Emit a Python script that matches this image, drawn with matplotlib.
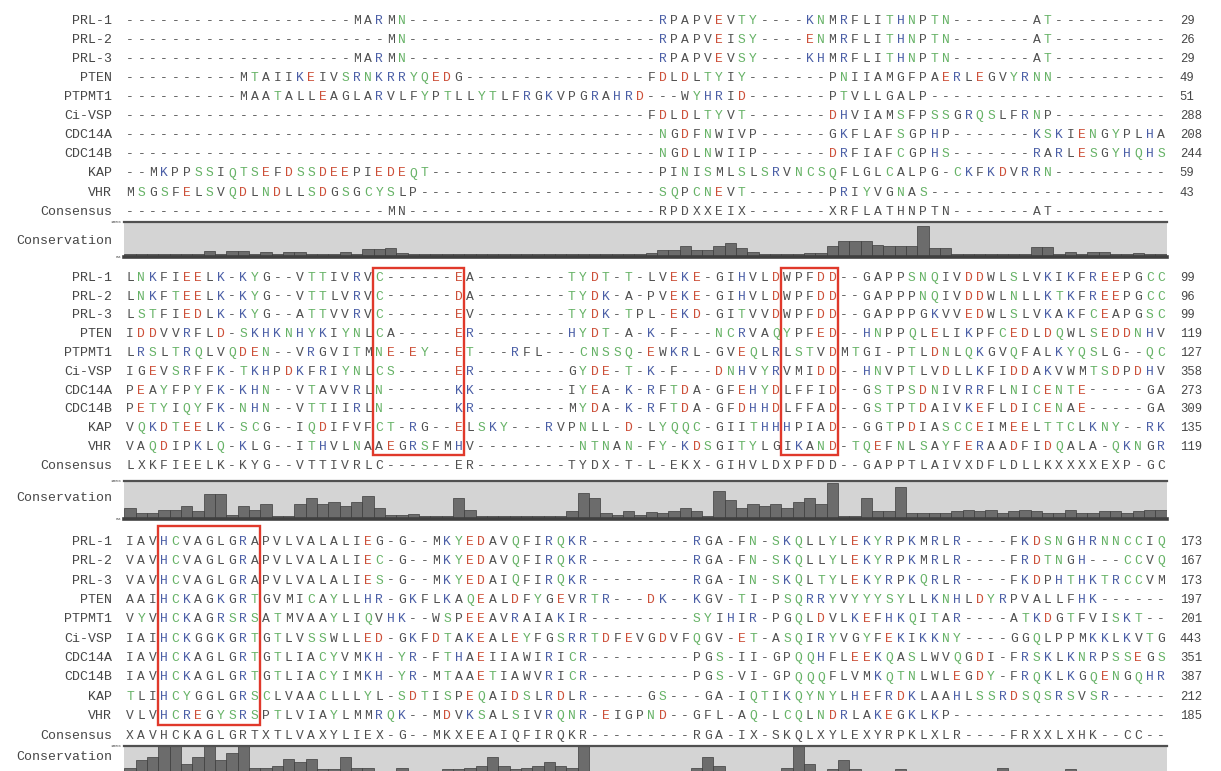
import matplotlib
matplotlib.use("Agg")
import matplotlib.pyplot as plt
from matplotlib.patches import Rectangle

names = ["PRL-1", "PRL-2", "PRL-3", "PTEN", "PTPMT1", "Ci-VSP", "CDC14A", "CDC14B", "KAP", "VHR"]

# ---- block 1 ----
block1 = [
    "--------------------MARMN----------------------RPAPVEVTY----KNMRFLITHNPTN-------AT----------",
    "-----------------------MN----------------------RPAPVEISY----ENMRFLITHNPTN-------AT----------",
    "--------------------MARMN----------------------RPAPVEVSY----KHMRFLITHNPTN-------AT----------",
    "----------MTAIIKEIVSRNKRRYQEDG----------------FDLDLTYIY-------PNIIAMGFPAERLEGVYRNN----------",
    "----------MAATALLEAGLARVLFYPTLLYTLFRGKVPGRAHRD---WYHRID-------PTVLLGALP---------------------",
    "----------------------------------------------FDLDLTYVT-------DHVIAMSFPSSGRQSLFRNP----------",
    "-----------------------------------------------NGDFNWIVP------GKFLAFSGPHP-------KSKIENGYPLHA",
    "-----------------------------------------------NGDLNWIIP------DRFIAFCGPHS-------RARLESGYHQHS",
    "--MKPPSSIQTSEFDSSDEEPIEDEQT--------------------PINISMLSLSRVNCSQFLGLCALPG-CKFKDVRRN----------",
    "MSGSFELSVQDLNDLLSDGSGCYSLP---------------------SQPCNEVT-------PRIYVGNAS---------------------",
]
consensus1 = "-----------------------MN----------------------RPDXXEIX-------XRFLATHNPTN-------AT----------"
ends1 = [29, 26, 29, 49, 51, 288, 208, 244, 59, 43]
conservation1 = [8, 8, 8, 8, 8, 8, 8, 18, 8, 16, 16, 8, 14, 8, 14, 14, 8, 8, 8, 14,
                 8, 22, 22, 25, 10, 8, 8, 8, 8, 8, 8, 8, 8, 8, 8, 8, 8, 8, 8, 8,
                 8, 8, 8, 8, 8, 8, 12, 20, 20, 30, 20, 20, 30, 40, 25, 15, 8, 8, 8, 8,
                 12, 12, 30, 45, 45, 45, 35, 30, 30, 30, 90, 25, 25, 8, 8, 8, 8, 8, 8, 8,
                 28, 28, 8, 14, 8, 14, 14, 8, 8, 12, 8, 8]

# ---- block 2 ----
block2 = [
    "LNKFIEELK-KYG--VTTIVRVC------EA--------TYDT-T-LVEKE-GIHVLDWPFDD--GAPPSNQIVDDWLSLVKIKFREEPGCC",
    "LNKFTEELK-KYG--VTTLVRVC------DA--------TYDK-A-PVEKE-GIHVLDWPFDD--GAPPPNQIVDDWLNLLKTKFREEPGCC",
    "LSTFIEDLK-KYG--ATTVVRVC------EV--------TYDK-TPL-EKD-GITVVDWPFDD--GAPPPGKVVEDWLSLVKAKFCEAPGSC",
    "IDDVVRFLD-SKHKNHYKIYNLCA-----ER--------HYDT-A-K-F---NCRVAQYPFED--HNPPQLELIKPFCEDLDQWLSEDDNHV",
    "LRSLTRQLVQDEN--VRGVITMNE-EY--ET---RFL---CNSSQ-EWKRL-GVEQLRLSTVDMTGI-PTLDNLQKGVQFALKYQSLG--QC",
    "IGEVSRFFK-TKHPDKFRIYNLCS-----ER--------GYDE-T-K-F---DNHVYRVMIDD--HNVPTLVDLLKFIDDAKVWMTSDPDHV",
    "PEAYFPYFK-KHN--VTAVVRLN------KK--------IYEA-K-RFTDA-GFEHYDLFFID--GSTPSDNIVRRFLNICENTE-----GA",
    "PETYIQYFK-NHN--VTTIIRLN------KR--------MYDA-K-RFTDA-GFDHHDLFFAD--GSTPTDAIVKEFLDICENAE-----GA",
    "VQKDTEELK-SCG--IQDIFVFCT-RG--ELSKY---RVPNLL-D-LYQQC-GIITHHHPIAD--GGTPDIASCCEIMEELTTCLKNY--RK",
    "VAQDIPKLQ-KLG--ITHVLNAAEGRSFMHV---------NTNAN-FY-KDSGITYLGIKAND-TQEFNLSAYFERAADFIDQALA-QKNGR",
]
consensus2 = "LXKFIEELK-KYG--VTTIVRLC------ER--------TYDX-T-L-EKX-GIHVLDXPFDD--GAPPTLAIVXDFLDLLKXXXXEXP-GC"
ends2 = [99, 96, 99, 119, 127, 358, 273, 309, 135, 119]
conservation2 = [30, 15, 15, 25, 25, 35, 20, 65, 65, 10, 35, 25, 40, 8, 8, 40, 55, 40, 45, 35,
                 45, 60, 30, 10, 10, 12, 8, 8, 8, 55, 25, 8, 8, 8, 8, 8, 8, 8, 8, 20,
                 68, 55, 15, 10, 20, 10, 18, 15, 20, 30, 20, 8, 75, 50, 30, 40, 35, 40, 30, 45,
                 55, 40, 95, 8, 8, 55, 20, 20, 85, 15, 15, 15, 15, 20, 25, 20, 25, 15, 20, 25,
                 20, 15, 15, 25, 15, 15, 20, 20, 15, 20, 25, 25]

# ---- block 3 ----
block3 = [
    "IAVHCVAGLGRAPVLVALALIEG-G--MKYEDAVQFIRQKR---------RGA-FN-SKQLLYLEKYRPKMRLR----FKDSNGHRNNCCIQ",
    "VAVHCVAGLGRAPVLVALALIEC-G--MKYEDAVQFIRQKR---------RGA-FN-SKQLLYLEKYRPKMRLR----FRDTNGH---CCVQ",
    "VAVHCVAGLGRAPVLVALALIES-G--MKYEDAIQFIRQKR---------RGA-IN-SKQLTYLEKYRPKQRLR----FKDPHTHKTRCCVM",
    "AAIHCKAGKGRTGVMICAYLLHR-GKFLKAQEALDFYGEVRTR---DK--KGV-TI-PSQRRYVYYYSYLLKNHLDYRPVALLFHK------",
    "VYVHCKAGRSRSATMVAAYLIQVHK--WSPEEAVRAIAKIR---------SYIHIR-PGQLDVLKEFHKQITAR----ATKDGTFVISKT--",
    "IAIHCKGGKGRTGTLVSSWLLED-GKFDTAKEALEYFGSRRTDFEVGDVFQGV-ET-ASQIRYVGYFEKIKKNY----GGQLPPMKKLKVTG",
    "IAVHCKAGLGRTGTLIACYVMKH-YR-FTHAEIIAWIRICR---------PGS-II-GPQQHFLEEKQASLWVQGDI-FRSKLKNRPSSEGS",
    "IAVHCKAGLGRTGTLIACYIMKH-YR-MTAAETIAWVRICR---------PGS-VI-GPQQQFLVMKQTNLWLEGDY-FRQKLKGQENGQHR",
    "TLIHCYGGLGRSCLVAACLLLYL-SDTISPEQAIDSLRDLR-----GS---GA-IQTIKQYNYLHEFRDKLAAHLSSRDSQSRSVSR-----",
    "VLVHCREGYSRSPTLVIAYLMMRQK--MDVKSALSIVRQNR-EIGPND--GFL-AQ-LCQLNDRLAKEGKLKP-------------------",
]
consensus3 = "XAVHCKAGLGRTXTLVAXYLIEX-G--MKXEEAIQFIRQKR---------RGA-IX-SKQLXYLEXYRPKLXLR----FRXXLXHK--CC--"
ends3 = [173, 167, 173, 197, 201, 443, 351, 387, 212, 185]
conservation3 = [40, 60, 70, 100, 100, 50, 70, 100, 60, 80, 100, 40, 40, 45, 65, 55, 65, 35, 35, 70,
                 40, 40, 25, 10, 40, 25, 20, 30, 35, 35, 40, 45, 70, 45, 35, 40, 45, 55, 45, 40,
                 100, 10, 10, 12, 10, 10, 15, 15, 10, 10, 40, 70, 45, 10, 30, 30, 10, 30, 40, 100,
                 50, 20, 35, 60, 35, 25, 25, 25, 35, 25, 25, 30, 25, 20, 10, 10, 10, 40, 30, 25,
                 25, 25, 20, 35, 25, 15, 25, 25, 25, 30, 25, 25]

# red boxes (first, last column) per block
boxes1 = []
boxes2 = [(22, 29), (58, 62)]
boxes3 = [(3, 11)]

NCOL = 92
for blk in (block1 + [consensus1], block2 + [consensus2], block3 + [consensus3]):
    for s in blk:
        assert len(s) == NCOL, (len(s), s)
for cv in (conservation1, conservation2, conservation3):
    assert len(cv) == NCOL, len(cv)

W, H = 1221, 771
X0 = 130.0      # centre of first column (px)
PITCH = 11.33   # column pitch (px)
FONT = "Liberation Mono"

RED = "#cc4f38"
BLUE = "#4a5ea6"
GREEN = "#66b266"
GREY = "#505050"
LABEL = "#464646"
BOX = "#e0392b"


def res_color(ch):
    if ch in "DE":
        return RED
    if ch in "KRH":
        return BLUE
    if ch in "STNQYC":
        return GREEN
    return GREY


fig = plt.figure(figsize=(W / 100, H / 100), dpi=100)
fig.patch.set_facecolor("white")


def px_axes(left, top, width, height):
    return fig.add_axes([left / W, 1 - (top + height) / H, width / W, height / H])


blocks = [
    (block1, consensus1, ends1, conservation1, boxes1),
    (block2, consensus2, ends2, conservation2, boxes2),
    (block3, consensus3, ends3, conservation3, boxes3),
]
# first row y, row pitch, strip top, strip bottom, label y, box top (rows)
layout = [
    (20.7, 19.1, 222, 257, 241, -0.55),
    (277.7, 18.8, 481, 519, 498, -0.5),
    (541.7, 19.4, 746, 782, 757, -0.8),
]

left = X0 - PITCH / 2
width = NCOL * PITCH

for (seqs, cons, ends, cvals, boxes), (y0, rp, s_top, s_bot, lab_y, box_top) in zip(blocks, layout):
    ax = px_axes(left, y0 - rp / 2, width, 11 * rp)
    ax.set_xlim(-0.5, NCOL - 0.5)
    ax.set_ylim(10.5, -0.5)
    ax.axis("off")

    rows = seqs + [cons]
    labels = names + ["Consensus"]
    for r, (lab, s) in enumerate(zip(labels, rows)):
        ax.text(-1.6, r, lab, ha="right", va="center", fontsize=9.5,
                color=LABEL, family=FONT, clip_on=False)
        for c, ch in enumerate(s):
            col = GREY if r == 10 else res_color(ch)
            ax.text(c, r, ch, ha="center", va="center", fontsize=9.4,
                    color=col, family=FONT)
    for r, n in enumerate(ends):
        ax.text(NCOL + 0.65, r, str(n), ha="left", va="center", fontsize=8.8,
                color=LABEL, family=FONT, clip_on=False)
    for c0, c1 in boxes:
        ax.add_patch(Rectangle((c0 - 0.52, box_top), c1 - c0 + 0.97, 9.45 - box_top,
                               fill=False, ec=BOX, lw=1.7, clip_on=False, zorder=5))

    # conservation strip
    cax = px_axes(left, s_top, width, s_bot - s_top)
    cax.set_xlim(-0.5, NCOL - 0.5)
    cax.set_ylim(0, 100)
    cax.set_facecolor("#d4d4d4")
    cax.bar(range(NCOL), cvals, width=1.0, color="#6c6c6c",
            edgecolor="#3c3c3c", linewidth=0.5)
    cax.set_xticks([])
    cax.set_yticks([])
    cax.spines["left"].set_visible(False)
    cax.spines["right"].set_visible(False)
    cax.spines["top"].set_color("#505050")
    cax.spines["top"].set_linewidth(1.6)
    cax.spines["bottom"].set_color("#404040")
    cax.spines["bottom"].set_linewidth(2.6)

    fig.text(112 / W, 1 - lab_y / H, "Conservation", ha="right", va="center",
             fontsize=9.5, color=LABEL, family=FONT)
    fig.text(121 / W, 1 - s_top / H, "100%", ha="right", va="center",
             fontsize=3.2, color=LABEL, family=FONT)
    fig.text(121 / W, 1 - s_bot / H, "0%", ha="right", va="center",
             fontsize=3.2, color=LABEL, family=FONT)

fig.savefig("out.png", dpi=100)
